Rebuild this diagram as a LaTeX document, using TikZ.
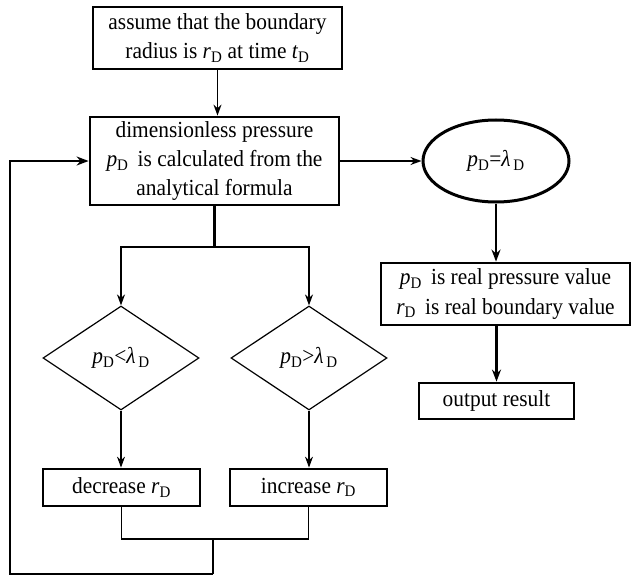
\documentclass[tikz,border=0pt]{standalone}
\usepackage{fontspec}
\setmainfont{Liberation Serif}[FakeStretch=0.93]
\usetikzlibrary{shapes.geometric,arrows.meta}
\newcommand\vsub[1]{\textit{#1}\textsubscript{D}}
\newcommand\lamD{\textit{λ}\textsubscript{\,D}}
\begin{document}
\begin{tikzpicture}[x=1pt,y=-1pt,
  font=\fontsize{23}{29}\selectfont,
  box/.style={draw, line width=2.8pt, inner sep=0pt, align=center},
  dia/.style={diamond, draw, line width=1.2pt, inner sep=0pt, aspect=1.5,
    minimum width=156pt, minimum height=104pt},
  ell/.style={ellipse, draw, line width=3pt, inner sep=0pt,
    minimum width=146pt, minimum height=82pt},
  arr/.style={-{Stealth[length=11pt,width=8pt]}, line width=1.3pt},
  tarr/.style={-{Stealth[length=12pt,width=9pt]}, line width=2.6pt},
  thin/.style={line width=1.9pt},
  thick2/.style={line width=2.6pt}]
\useasboundingbox (0,0) rectangle (631,575);

\node[box, minimum width=249pt, minimum height=62pt] (b1) at (217.5,38)
  {assume that the boundary\\radius is \vsub{r} at time \vsub{t}};
\node[box, minimum width=249pt, minimum height=88pt] (b2) at (214.5,161)
  {dimensionless pressure\\\vsub{p}\, is calculated from the\\analytical formula};
\node[ell] (e) at (496,161) {\vsub{p}=\lamD};
\node[box, minimum width=249pt, minimum height=62pt] (b3) at (505.5,294)
  {\vsub{p}\, is real pressure value\\\vsub{r}\, is real boundary value};
\node[box, minimum width=155pt, minimum height=36pt] (b4) at (496.5,401)
  {output result};
\node[dia] (dl) at (121,358) {\vsub{p}<\lamD};
\node[dia] (dr) at (309,358) {\vsub{p}>\lamD};
\node[box, minimum width=157pt, minimum height=37pt] (dec) at (121.5,487.5)
  {decrease \vsub{r}};
\node[box, minimum width=157pt, minimum height=37pt] (inc) at (308.5,487.5)
  {increase \vsub{r}};

\coordinate (split) at (214.5,247);
\coordinate (merge) at (213,539);
\coordinate (bot) at (10,574);

\draw[arr] (b1) -- (b1 |- b2.north);
\draw[arr] (b2.east) -- (e.west);
\draw[tarr] (e.south) -- (e.south |- b3.north);
\draw[tarr] (b3.south -| b4.north) -- (b4.north);
\draw[thick2] (b2.south) -- (split);
\draw[arr, line width=1.6pt] (split) -| (dl.north);
\draw[arr, line width=1.6pt] (split) -| (dr.north);
\draw[arr] (dl.south) -- (dl.south |- dec.north);
\draw[arr] (dr.south) -- (dr.south |- inc.north);
\draw[thin] (dec.south) -- (dec.south |- merge) -- (inc.south |- merge) -- (inc.south);
\draw[thin] (merge) -- (merge |- bot);
\draw[thick2, -{Stealth[length=12pt,width=9pt]}] (merge |- bot) -- (bot) -- (bot |- b2.west) -- (b2.west);
\end{tikzpicture}
\end{document}
